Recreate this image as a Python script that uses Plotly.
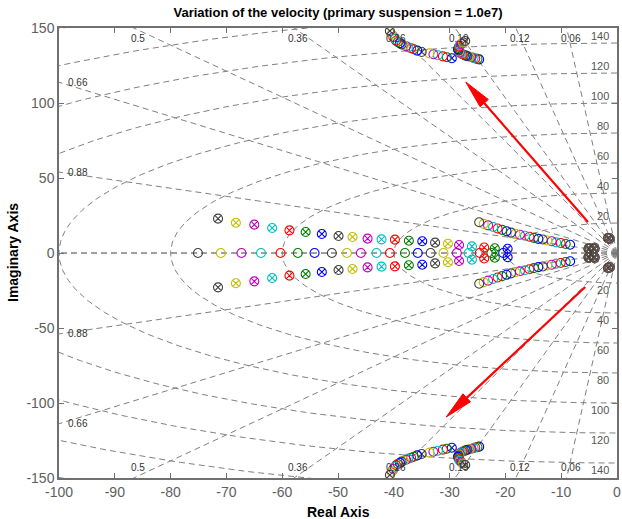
import numpy as np
import plotly.graph_objects as go

# ---------------- data (series 1 .. 21, MATLAB colour order) ----------------
SERIES_COLORS = ["#0000FF", "#008000", "#FF0000", "#00BFBF", "#BF00BF", "#BFBF00", "#404040"]

real_pole = [-20.4, -22.5, -24.6, -26.6, -28.7, -31.1, -33.4, -35.7, -38.0, -40.7, -43.1,
             -45.9, -48.4, -51.1, -54.2, -57.2, -60.3, -63.8, -67.3, -71.0, -75.1]
osc_re = [-19.6, -21.9, -23.8, -26.0, -28.3, -30.3, -32.6, -34.9, -37.3, -39.8, -42.2,
          -44.7, -47.4, -49.9, -52.9, -55.8, -58.7, -61.8, -65.0, -68.3, -71.5]
osc_im = [2.8, 3.2, 3.7, 4.4, 5.3, 6.2, 6.9, 7.8, 8.2, 8.9, 9.1,
          9.6, 10.7, 11.3, 12.7, 14.0, 15.1, 16.7, 18.9, 20.2, 22.9]
low_re = [-8.4, -9.2, -10.1, -10.9, -11.7, -12.5, -13.3, -14.1, -14.9, -15.7, -16.5,
          -17.4, -18.2, -19.0, -19.8, -20.6, -21.4, -22.2, -23.1, -23.9, -24.7]
low_im = [5.5, 6.0, 6.7, 7.1, 7.8, 8.3, 9.0, 9.4, 10.1, 10.8, 11.5,
          12.2, 12.8, 13.6, 14.5, 15.4, 16.3, 17.3, 18.4, 19.4, 20.5]
hi1_re = [-29.6, -30.5, -31.2, -32.1, -32.9, -33.6, -35.0, -35.8, -36.4, -36.9, -37.4,
          -37.8, -38.2, -38.6, -38.9, -39.3, -39.6, -39.8, -40.1, -40.4, -40.7]
hi1_im = [129.8, 130.5, 131.1, 131.8, 132.5, 133.1, 134.0, 134.9, 135.8, 136.5, 137.1,
          137.8, 138.5, 139.1, 139.8, 140.7, 141.5, 142.7, 144.0, 145.8, 148.0]
hi2_re = [-24.7, -25.0, -25.4, -25.7, -26.1, -26.4, -26.8, -27.1, -27.4, -27.7, -28.0,
          -28.2, -28.3, -28.4, -28.5, -28.4, -28.3, -28.2, -27.9, -27.6, -27.2]
hi2_im = [129.1, 129.4, 129.7, 130.1, 130.5, 130.9, 131.2, 131.6, 132.0, 132.5, 133.1,
          133.7, 134.4, 135.1, 135.9, 136.7, 137.6, 138.5, 139.4, 140.3, 141.3]
bog1_re = [-4.92, -4.93, -4.94, -4.95, -4.96, -4.97, -4.98, -4.99, -5.00, -5.00, -5.01,
           -5.02, -5.03, -5.04, -5.05, -5.06, -5.07, -5.08, -5.09, -5.10, -5.10]
bog1_im = [2.95, 2.95, 2.94, 2.94, 2.93, 2.93, 2.92, 2.92, 2.91, 2.91, 2.90,
           2.90, 2.89, 2.89, 2.88, 2.88, 2.87, 2.87, 2.86, 2.86, 2.85]
bog2_re = [-4.02, -4.03, -4.04, -4.05, -4.06, -4.07, -4.08, -4.09, -4.10, -4.10, -4.11,
           -4.12, -4.13, -4.14, -4.15, -4.16, -4.17, -4.18, -4.19, -4.20, -4.20]
bog2_im = [2.95, 2.95, 2.94, 2.94, 2.93, 2.93, 2.92, 2.92, 2.91, 2.91, 2.90,
           2.90, 2.89, 2.89, 2.88, 2.88, 2.87, 2.87, 2.86, 2.86, 2.85]
slow_re = [-1.30, -1.32, -1.34, -1.36, -1.38, -1.40, -1.42, -1.44, -1.46, -1.48, -1.50,
           -1.51, -1.52, -1.53, -1.54, -1.55, -1.56, -1.57, -1.58, -1.59, -1.60]
slow_im = [9.60, 9.62, 9.64, 9.66, 9.68, 9.70, 9.72, 9.74, 9.76, 9.78, 9.80,
           9.82, 9.84, 9.86, 9.88, 9.90, 9.92, 9.94, 9.96, 9.98, 10.00]
hi1_crossed = [1, 7, 21]
hi2_crossed = [21]

# s-plane grid values
ZETAS = [0.06, 0.12, 0.19, 0.26, 0.36, 0.5, 0.66, 0.88]
WN = [20, 40, 60, 80, 100, 120, 140, 160, 180]
WN_LABELS = [20, 40, 60, 80, 100, 120, 140]

# red arrows (tail -> head)
arrow_tail_x = [-5.2, -5.7]
arrow_tail_y = [20.7, -22.7]
arrow_head_x = [-27.1, -30.6]
arrow_head_y = [114.0, -109.3]

X_TICKS = [-100, -90, -80, -70, -60, -50, -40, -30, -20, -10, 0]
X_TICK_LABELS = ["-100", "-90", "-80", "-70", "-60", "-50", "-40", "-30", "-20", "-10", "0"]
Y_TICKS = [-150, -100, -50, 0, 50, 100, 150]
Y_TICK_LABELS = ["-150", "-100", "-50", "0", "50", "100", "150"]
X_RANGE = [-100, 0]
Y_RANGE = [-150, 150]

FONT = "Liberation Sans, Arial, sans-serif"
GRID_COLOR = "#808080"
W, H = 622, 519
M = dict(l=59, r=5, t=28, b=41)

fig = go.Figure()

# ---------------- sgrid (dashed) ----------------
gx, gy = [], []
for z in ZETAS + [1.0]:
    s = np.sqrt(max(1 - z * z, 0.0))
    for sign in (1, -1):
        gx += [0, -400 * z, None]
        gy += [0, sign * 400 * s, None]
th = np.linspace(np.pi / 2, 3 * np.pi / 2, 241)
for w in WN:
    gx += list(w * np.cos(th)) + [None]
    gy += list(w * np.sin(th)) + [None]
fig.add_trace(go.Scatter(x=gx, y=gy, mode="lines", hoverinfo="skip",
                         line=dict(color=GRID_COLOR, width=1, dash="6px,4px")))

# ---------------- pole markers, one trace per series ----------------
n = len(real_pole)
for i in range(n):
    k = i + 1
    col = SERIES_COLORS[i % len(SERIES_COLORS)]
    xs, ys, sym = [], [], []
    def add(x, y, s):
        xs.append(x); ys.append(y); sym.append(s)
    o, ox = "circle-open", "circle-x-open"
    add(low_re[i], low_im[i], o); add(low_re[i], -low_im[i], o)
    add(real_pole[i], 0.0, o)
    add(osc_re[i], osc_im[i], ox); add(osc_re[i], -osc_im[i], ox)
    s1 = ox if k in hi1_crossed else o
    add(hi1_re[i], hi1_im[i], s1); add(hi1_re[i], -hi1_im[i], s1)
    s2 = ox if k in hi2_crossed else o
    add(hi2_re[i], hi2_im[i], s2); add(hi2_re[i], -hi2_im[i], s2)
    add(bog1_re[i], bog1_im[i], ox); add(bog1_re[i], -bog1_im[i], ox)
    add(bog2_re[i], bog2_im[i], ox); add(bog2_re[i], -bog2_im[i], ox)
    add(slow_re[i], slow_im[i], ox); add(slow_re[i], -slow_im[i], ox)
    fig.add_trace(go.Scatter(x=xs, y=ys, mode="markers", hoverinfo="skip",
                             marker=dict(symbol=sym, size=9, color=col,
                                         line=dict(color=col, width=1.1))))

# ---------------- red arrows: shaft + slender filled head ----------------
sx = (W - M["l"] - M["r"]) / (X_RANGE[1] - X_RANGE[0])   # px per unit
sy = (H - M["t"] - M["b"]) / (Y_RANGE[1] - Y_RANGE[0])
HEAD_LEN, HEAD_HALF = 28.0, 5.5
for tx, ty, hx, hy in zip(arrow_tail_x, arrow_tail_y, arrow_head_x, arrow_head_y):
    dxp, dyp = (hx - tx) * sx, (hy - ty) * sy
    L = np.hypot(dxp, dyp)
    ux, uy = dxp / L, dyp / L
    bx, by = hx - HEAD_LEN * ux / sx, hy - HEAD_LEN * uy / sy
    px, py = -uy, ux
    fig.add_trace(go.Scatter(x=[tx, bx], y=[ty, by], mode="lines", hoverinfo="skip",
                             line=dict(color="#FF0000", width=2.2)))
    fig.add_trace(go.Scatter(
        x=[hx, bx + HEAD_HALF * px / sx, bx - HEAD_HALF * px / sx, hx],
        y=[hy, by + HEAD_HALF * py / sy, by - HEAD_HALF * py / sy, hy],
        mode="lines", fill="toself", fillcolor="#FF0000", hoverinfo="skip",
        line=dict(color="#FF0000", width=1)))

ann = []
# damping labels
for z in ZETAS:
    s = np.sqrt(1 - z * z) / z
    xt = -150 / s
    txt = f"{z:g}"
    if xt > X_RANGE[0]:
        ann.append(dict(x=xt + 0.8, y=150, text=txt, showarrow=False, yanchor="top", yshift=-3,
                        xanchor="center", font=dict(size=10, color="#333333", family=FONT)))
        ann.append(dict(x=xt + 0.8, y=-150, text=txt, showarrow=False, yanchor="bottom", yshift=3,
                        xanchor="center", font=dict(size=10, color="#333333", family=FONT)))
    else:
        yl = 100 * s
        for sg in (1, -1):
            ann.append(dict(x=-100, y=sg * yl, text=txt, showarrow=False, xanchor="left", xshift=7,
                            yanchor="middle", font=dict(size=10, color="#333333", family=FONT)))
# natural frequency labels
for w in WN_LABELS:
    ann.append(dict(x=-1.0, y=w, text=str(w), showarrow=False, xanchor="right", yanchor="bottom",
                    yshift=-1, font=dict(size=11, color="#555555", family=FONT)))
    ann.append(dict(x=-1.0, y=-w, text=str(w), showarrow=False, xanchor="right", yanchor="top",
                    yshift=1, font=dict(size=11, color="#555555", family=FONT)))
# axis titles
ann.append(dict(x=0.5, y=0, xref="paper", yref="paper", text="<b>Real Axis</b>", showarrow=False,
                yanchor="top", yshift=-24, font=dict(size=14, color="#000000", family=FONT)))
ann.append(dict(x=0, y=0.5, xref="paper", yref="paper", text="<b>Imaginary Axis</b>", showarrow=False,
                textangle=-90, xanchor="center", xshift=-46, font=dict(size=14, color="#000000", family=FONT)))

axis_common = dict(showgrid=False, zeroline=False, showline=True, mirror="ticks",
                   linecolor="#707070", linewidth=1.5, ticks="inside", ticklen=5,
                   tickcolor="#707070", tickwidth=1, automargin=False,
                   tickfont=dict(size=14, color="#606060", family=FONT))

fig.update_layout(
    width=W, height=H,
    margin=dict(**M, autoexpand=False),
    paper_bgcolor="white", plot_bgcolor="white",
    showlegend=False, hovermode=False,
    title=dict(text="<b>Variation of the velocity (primary suspension = 1.0e7)</b>",
               x=0.5, xref="paper", y=1 - 12 / 519, yref="container", yanchor="middle",
               font=dict(size=13, color="#000000", family=FONT)),
    xaxis=dict(range=X_RANGE, tickvals=X_TICKS, ticktext=X_TICK_LABELS, **axis_common),
    yaxis=dict(range=Y_RANGE, tickvals=Y_TICKS, ticktext=Y_TICK_LABELS, **axis_common),
    annotations=ann,
)

fig.write_html("out.html", config={"displayModeBar": False},
               post_script="document.body.style.margin='0';document.body.style.padding='0';")
